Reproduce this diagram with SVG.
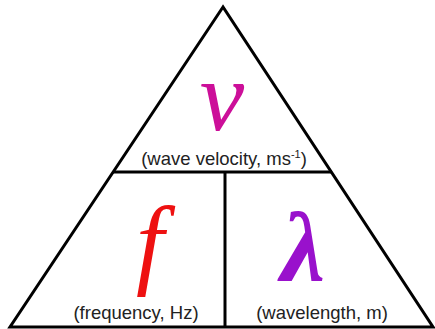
<svg xmlns="http://www.w3.org/2000/svg" width="435" height="329" viewBox="0 0 435 329">
<style>
.ln{stroke:#000;stroke-width:3;fill:none;stroke-linejoin:miter}
.lbl{font-family:"Liberation Sans",Arial,sans-serif;font-size:18.5px;fill:#222;text-anchor:middle}
.sym{font-family:"Liberation Serif","Times New Roman",serif;font-size:100px;text-anchor:middle}
</style>
<rect width="435" height="329" fill="#fff"/>
<g id="connectors">
<polygon class="ln" points="223,7 10,327 433,327"/>
<line class="ln" x1="113" y1="172" x2="332" y2="172"/>
<line class="ln" x1="225" y1="172" x2="225" y2="327"/>
</g>
<g id="node-v">
<text class="sym" x="222" y="130" font-style="italic" fill="#cc0f99">v</text>
<text class="lbl" x="224" y="165">(wave velocity, ms<tspan font-size="11" dy="-7">-1</tspan><tspan dy="7">)</tspan></text>
</g>
<g id="node-f">
<text class="sym" x="150" y="276" font-style="italic" fill="#ee1111">f</text>
<text class="lbl" x="136" y="319">(frequency, Hz)</text>
</g>
<g id="node-lambda">
<text class="sym" x="303" y="281" font-size="96" font-weight="bold" font-style="italic" fill="#9911cc">λ</text>
<text class="lbl" x="322" y="319">(wavelength, m)</text>
</g>
</svg>
